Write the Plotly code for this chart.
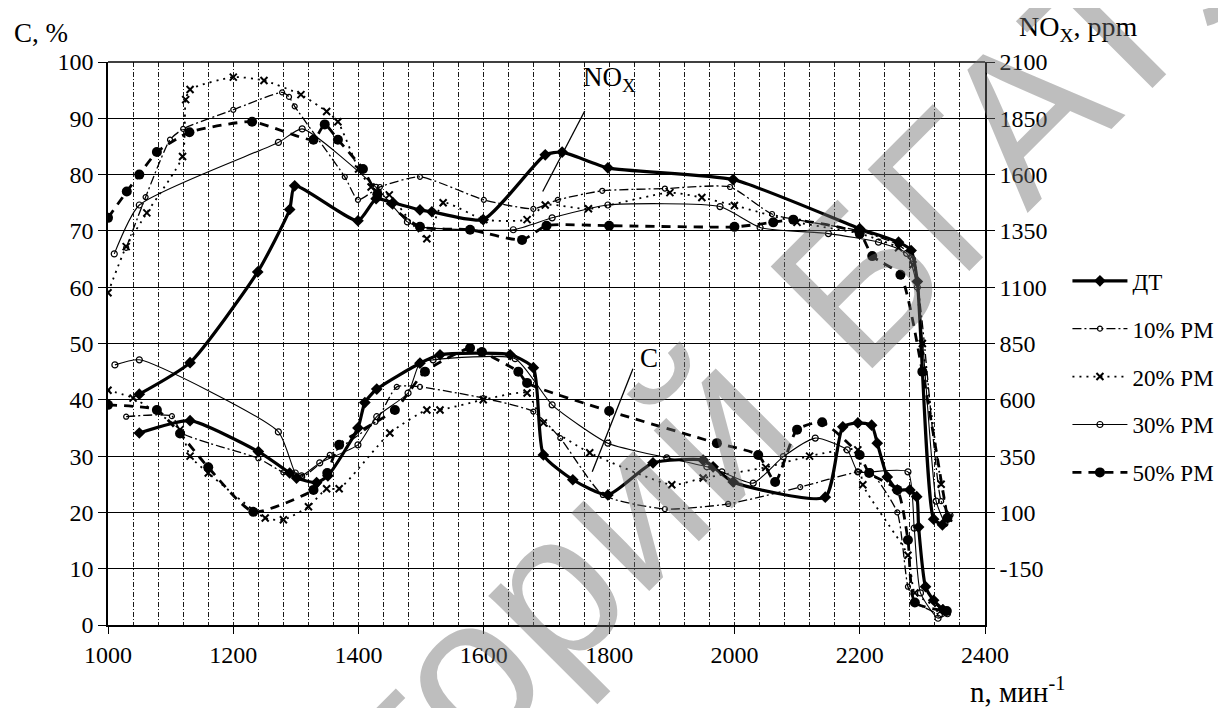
import plotly.graph_objects as go

# ---------------- data ----------------
# NOx, ppm (right axis)
dt_nox_n = [1050, 1131, 1239, 1290, 1298, 1399, 1428, 1455, 1498, 1517, 1599, 1698, 1725, 1798, 1998, 2200, 2262, 2282, 2292, 2318, 2332]
dt_nox = [625, 765, 1168, 1445, 1550, 1395, 1493, 1475, 1443, 1435, 1400, 1688, 1700, 1630, 1578, 1360, 1300, 1263, 1125, 70, 45]

rm10_nox_n = [1029, 1060, 1099, 1120, 1200, 1278, 1289, 1298, 1378, 1399, 1434, 1498, 1600, 1679, 1718, 1789, 1889, 1993, 2060, 2200, 2262, 2285, 2330, 2345]
rm10_nox = [1275, 1500, 1755, 1803, 1888, 1965, 1945, 1903, 1590, 1488, 1545, 1590, 1488, 1448, 1488, 1528, 1538, 1545, 1425, 1350, 1288, 1225, 150, 88]

rm20_nox_n = [1000, 1029, 1062, 1119, 1124, 1131, 1200, 1249, 1308, 1349, 1367, 1400, 1420, 1449, 1509, 1535, 1600, 1669, 1698, 1767, 1897, 1948, 2000, 2100, 2200, 2262, 2285, 2300, 2330, 2342]
rm20_nox = [1075, 1280, 1430, 1680, 1933, 1978, 2033, 2018, 1955, 1880, 1835, 1625, 1545, 1510, 1315, 1475, 1400, 1400, 1465, 1448, 1520, 1498, 1463, 1388, 1338, 1275, 1200, 850, 225, 75]

rm30_nox_n = [1010, 1050, 1272, 1310, 1428, 1478, 1498, 1647, 1709, 1798, 1977, 2041, 2150, 2230, 2275, 2292, 2322, 2336]
rm30_nox = [1248, 1465, 1743, 1803, 1543, 1390, 1368, 1355, 1408, 1465, 1458, 1365, 1338, 1300, 1250, 1100, 150, 50]

rm50_nox_n = [1000, 1030, 1050, 1078, 1130, 1230, 1328, 1346, 1367, 1407, 1430, 1498, 1578, 1661, 1700, 1800, 2000, 2062, 2094, 2200, 2220, 2265, 2300, 2340]
rm50_nox = [1408, 1525, 1600, 1700, 1788, 1835, 1755, 1823, 1755, 1625, 1513, 1368, 1355, 1310, 1373, 1373, 1368, 1388, 1400, 1338, 1238, 1155, 725, 75]

# C, % (left axis)
dt_c_n = [1050, 1131, 1240, 1290, 1301, 1333, 1351, 1399, 1410, 1429, 1498, 1530, 1642, 1679, 1695, 1742, 1798, 1870, 1950, 1966, 1998, 2145, 2173, 2197, 2219, 2228, 2244, 2260, 2280, 2291, 2294, 2305, 2318, 2333]
dt_c = [34.1, 36.3, 30.8, 27.0, 26.1, 25.3, 26.5, 35.0, 39.5, 41.9, 46.5, 48.0, 48.0, 45.7, 30.2, 25.8, 23.1, 28.8, 29.3, 28.1, 25.4, 22.7, 35.2, 35.9, 35.5, 32.3, 26.3, 24.0, 24.0, 22.8, 17.4, 6.8, 4.4, 2.7]

rm10_c_n = [1029, 1102, 1118, 1240, 1280, 1310, 1354, 1427, 1461, 1498, 1599, 1679, 1722, 1790, 1889, 1990, 2105, 2197, 2217, 2260, 2277, 2290, 2328]
rm10_c = [37.0, 37.1, 34.1, 29.6, 27.1, 26.3, 30.2, 36.1, 42.3, 42.3, 40.3, 37.9, 33.2, 23.1, 20.6, 21.5, 24.5, 27.2, 27.2, 20.0, 6.8, 4.0, 1.8]

rm20_c_n = [1000, 1040, 1115, 1131, 1160, 1251, 1280, 1320, 1349, 1369, 1450, 1509, 1530, 1599, 1669, 1695, 1769, 1900, 1950, 2050, 2120, 2197, 2205, 2277, 2288, 2328]
rm20_c = [41.7, 40.3, 34.7, 30.0, 27.0, 19.0, 18.7, 21.0, 24.2, 24.2, 34.1, 38.2, 38.2, 40.0, 41.2, 35.9, 30.6, 24.9, 26.1, 28.0, 30.0, 31.1, 24.9, 12.4, 5.7, 3.0]

rm30_c_n = [1011, 1050, 1272, 1299, 1309, 1338, 1399, 1429, 1479, 1498, 1519, 1650, 1709, 1798, 1892, 1956, 1980, 2030, 2078, 2129, 2180, 2197, 2217, 2277, 2287, 2297, 2325, 2340]
rm30_c = [46.2, 47.1, 34.3, 27.0, 26.5, 28.8, 32.0, 37.0, 41.2, 46.6, 47.1, 47.3, 39.1, 32.3, 29.7, 28.1, 27.2, 25.2, 29.9, 33.2, 31.1, 27.2, 27.2, 27.2, 17.2, 5.7, 1.2, 2.0]

rm50_c_n = [1000, 1078, 1115, 1160, 1232, 1328, 1350, 1369, 1458, 1506, 1578, 1597, 1655, 1669, 1800, 1972, 2038, 2065, 2100, 2140, 2200, 2215, 2260, 2277, 2288, 2339]
rm50_c = [39.1, 38.2, 34.0, 28.0, 20.1, 24.0, 27.0, 32.0, 38.2, 45.0, 49.2, 48.5, 45.0, 43.0, 38.0, 32.3, 30.2, 25.4, 34.7, 36.0, 30.2, 27.0, 24.0, 15.1, 4.0, 2.5]

series_names = ["ДТ", "10% РМ", "20% РМ", "30% РМ", "50% РМ"]
x_ticks = [1000, 1200, 1400, 1600, 1800, 2000, 2200, 2400]
left_ticks = [0, 10, 20, 30, 40, 50, 60, 70, 80, 90, 100]
right_ticks = [-150, 100, 350, 600, 850, 1100, 1350, 1600, 1850, 2100]
right_tick_text = ["-150", "100", "350", "600", "850", "1100", "1350", "1600", "1850", "2100"]
watermark_words = ["Репозиторий", "БГАТУ"]

# ---------------- styles ----------------
FONT = "Liberation Serif, Times New Roman, serif"
styles = [
    dict(line=dict(color="black", width=3.2, dash="solid"),
         marker=dict(symbol="diamond", size=9, color="black")),
    dict(line=dict(color="black", width=1.3, dash="9px,3px,2px,3px"),
         marker=dict(symbol="circle-open", size=5, color="black", line=dict(width=1.2))),
    dict(line=dict(color="black", width=1.8, dash="2px,5px"),
         marker=dict(symbol="x-thin-open", size=7, color="black", line=dict(width=2, color="black"))),
    dict(line=dict(color="black", width=1.1, dash="solid"),
         marker=dict(symbol="circle-open", size=6, color="black", line=dict(width=1.2))),
    dict(line=dict(color="black", width=2.8, dash="9px,7px"),
         marker=dict(symbol="circle", size=10, color="black")),
]

nox_sets = [(dt_nox_n, dt_nox), (rm10_nox_n, rm10_nox), (rm20_nox_n, rm20_nox),
            (rm30_nox_n, rm30_nox), (rm50_nox_n, rm50_nox)]
c_sets = [(dt_c_n, dt_c), (rm10_c_n, rm10_c), (rm20_c_n, rm20_c),
          (rm30_c_n, rm30_c), (rm50_c_n, rm50_c)]

fig = go.Figure()
for i, name in enumerate(series_names):
    st = styles[i]
    xn, yn = nox_sets[i]
    fig.add_trace(go.Scatter(
        x=xn, y=yn, name=name, yaxis="y2", mode="lines+markers",
        line=dict(**st["line"], shape="spline", smoothing=0.55),
        marker=st["marker"], legendgroup=name, showlegend=True))
    xc, yc = c_sets[i]
    fig.add_trace(go.Scatter(
        x=xc, y=yc, name=name, yaxis="y", mode="lines+markers",
        line=dict(**st["line"], shape="spline", smoothing=0.55),
        marker=st["marker"], legendgroup=name, showlegend=False))

grid_style = dict(gridcolor="#1a1a1a", gridwidth=1, griddash="5px,2px,1px,2px")

# the page body has an 8px margin, so the figure is 8px smaller than the window
fig.update_layout(
    width=1218, height=700,
    margin=dict(l=100, r=241, t=54, b=83, autoexpand=False),
    paper_bgcolor="white", plot_bgcolor="white",
    font=dict(family=FONT, size=24, color="black"),
    xaxis=dict(
        range=[1000, 2400], tickvals=x_ticks, ticks="outside", ticklen=7,
        tickcolor="black", showline=True, linecolor="black", linewidth=1.5,
        mirror=False, showgrid=True, **grid_style,
        minor=dict(dtick=40, tick0=1000, showgrid=True, **grid_style),
        zeroline=False, tickfont=dict(size=24, family=FONT),
    ),
    yaxis=dict(
        range=[0, 100], tickvals=left_ticks, ticks="outside", ticklen=8,
        tickcolor="black", showline=True, linecolor="black", linewidth=1.5,
        showgrid=True, gridcolor="black", gridwidth=1.3, zeroline=False,
        tickfont=dict(size=24, family=FONT),
    ),
    yaxis2=dict(
        range=[-400, 2100], tickvals=right_ticks, ticktext=right_tick_text,
        ticks="outside", ticklen=8,
        tickcolor="black", overlaying="y", side="right", showline=True,
        linecolor="black", linewidth=1.5, showgrid=False, zeroline=False,
        tickfont=dict(size=24, family=FONT),
    ),
    legend=dict(
        x=1.094, y=0.6495, xanchor="left", yanchor="top",
        font=dict(size=23, family=FONT), itemwidth=55,
        tracegroupgap=15, bgcolor="rgba(0,0,0,0)",
    ),
    showlegend=True,
)

# top border
fig.add_shape(type="line", xref="paper", yref="paper", x0=0, x1=1, y0=1, y1=1,
              line=dict(color="black", width=1.5))

# axis titles
fig.add_annotation(text="C, %", xref="paper", yref="paper", x=-0.110, y=1.022,
                   xanchor="left", yanchor="bottom", showarrow=False,
                   font=dict(size=27, family=FONT))
fig.add_annotation(text="NO<sub>X</sub>, ppm", xref="paper", yref="paper", x=1.037, y=1.025,
                   xanchor="left", yanchor="bottom", showarrow=False,
                   font=dict(size=28, family=FONT))
fig.add_annotation(text="n, мин<sup>-1</sup>", xref="paper", yref="paper", x=0.981, y=-0.080,
                   xanchor="left", yanchor="top", showarrow=False,
                   font=dict(size=29, family=FONT))

# curve labels with leader lines
fig.add_annotation(text="NO<sub>X</sub>", x=1800, y=97.0, xref="x", yref="y",
                   showarrow=False, font=dict(size=27, family=FONT))
fig.add_shape(type="line", xref="x", yref="y", x0=1761, y0=91.3, x1=1694, y1=77.0,
              line=dict(color="black", width=1.3))
fig.add_annotation(text="C", x=1864, y=47.4, xref="x", yref="y",
                   showarrow=False, font=dict(size=27, family=FONT))
fig.add_shape(type="line", xref="x", yref="y", x0=1838, y0=45.5, x1=1773, y1=27.2,
              line=dict(color="black", width=1.3))

# diagonal repository watermark (light grey, semi-transparent)
wm_pos = [(0.2331, -0.3563), (1.0496, 0.9156)]
for word, (px, py) in zip(watermark_words, wm_pos):
    fig.add_annotation(text=word, xref="paper", yref="paper", x=px, y=py,
                       xanchor="center", yanchor="middle", showarrow=False,
                       textangle=-45,
                       font=dict(size=209, family="Liberation Sans",
                                 color="rgba(110,110,110,0.45)"))

fig.write_html("out.html")
